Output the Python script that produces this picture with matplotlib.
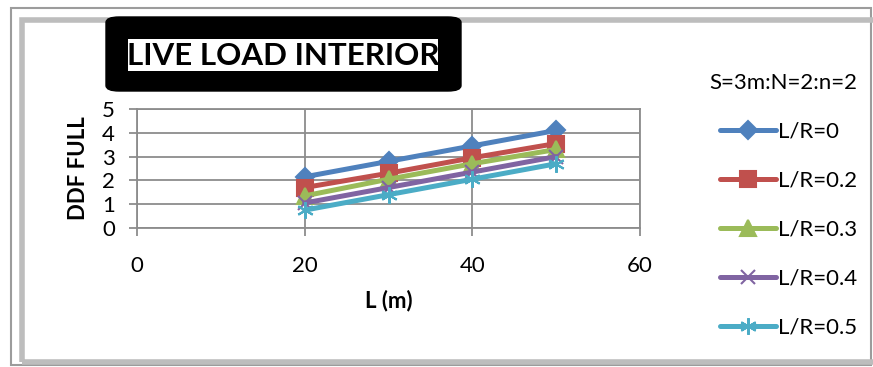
import matplotlib.pyplot as plt
from matplotlib.patches import Rectangle, FancyBboxPatch

plt.rcParams['font.family'] = ['Lato', 'DejaVu Sans']

# span lengths and DDF values for each L/R ratio
L = [20, 30, 40, 50]
lr_00 = [2.15, 2.8, 3.45, 4.1]
lr_02 = [1.7, 2.3, 2.95, 3.55]
lr_03 = [1.35, 2.05, 2.7, 3.3]
lr_04 = [1.05, 1.7, 2.35, 3.0]
lr_05 = [0.75, 1.4, 2.05, 2.7]
labels = ['L/R=0', 'L/R=0.2', 'L/R=0.3', 'L/R=0.4', 'L/R=0.5']
xticks = [0, 20, 40, 60]
yticks = [0, 1, 2, 3, 4, 5]

W, H = 873, 367
fig = plt.figure(figsize=(W / 100, H / 100), dpi=100)


def px(x, y):
    # pixel position (from top-left) to figure fraction
    return x / W, 1 - y / H


# outer frame with a soft inner edge
fig.patches.append(Rectangle(px(11, 365), 860 / W, 357 / H, transform=fig.transFigure,
                             fill=False, edgecolor='#9c9c9c', linewidth=1.5, zorder=0))
fig.patches.append(Rectangle(px(22, 362), 860 / W, 342 / H, transform=fig.transFigure,
                             fill=False, edgecolor='#bdbdbd', linewidth=4, zorder=0))

ax = fig.add_axes([137 / W, 1 - 228 / H, 503 / W, 119 / H])

colors = ['#4F81BD', '#C0504D', '#9BBB59', '#8064A2', '#4BACC6']
markers = ['D', 's', '^', 'x', (6, 2, 0)]
sizes = [9.5, 11, 11, 10, 12]
series = [lr_00, lr_02, lr_03, lr_04, lr_05]
for ys, c, m, ms, lab in zip(series, colors, markers, sizes, labels):
    ax.plot(L, ys, color=c, linewidth=3.6, marker=m, markersize=ms,
            markerfacecolor=c, markeredgecolor=c, markeredgewidth=1.5,
            label=lab, solid_capstyle='round', clip_on=False)

ax.set_xlim(0, 60)
ax.set_ylim(0, 5)
ax.set_xticks(xticks)
ax.set_yticks(yticks)
ax.grid(True, color='#8c8c8c', linewidth=1.3)
ax.set_axisbelow(True)
for s in ax.spines.values():
    s.set_color('#8c8c8c')
    s.set_linewidth(1.3)
ax.tick_params(axis='both', colors='#8c8c8c', length=6, width=1.3, labelsize=16,
               labelcolor='black')
ax.tick_params(axis='x', pad=14)
ax.tick_params(axis='y', pad=10)

ax.set_xlabel('L (m)', fontsize=16, fontweight='bold', labelpad=10)
ax.set_ylabel('DDF FULL', fontsize=16, fontweight='bold', labelpad=9)

# title box: black rounded plate with a white strip behind the text
fig.patches.append(FancyBboxPatch(px(106, 91), 355 / W, 74 / H, transform=fig.transFigure,
                                  boxstyle='round,pad=0,rounding_size=0.015',
                                  facecolor='black', edgecolor='black', zorder=2))
fig.patches.append(Rectangle(px(128, 71), 310 / W, 32 / H, transform=fig.transFigure,
                             facecolor='white', edgecolor='none', zorder=3))
fig.text(*px(283, 56), 'LIVE LOAD INTERIOR', fontsize=22.5, fontweight='bold',
         ha='center', va='center', zorder=4)

leg = fig.legend(loc='upper left', bbox_to_anchor=px(700, 64), frameon=False,
                 fontsize=16, title='S=3m:N=2:n=2', title_fontsize=16,
                 handlelength=2.5, handletextpad=0.1, labelspacing=1.3,
                 borderaxespad=0)
leg._legend_box.align = 'right'

fig.savefig('out.png', dpi=100)
